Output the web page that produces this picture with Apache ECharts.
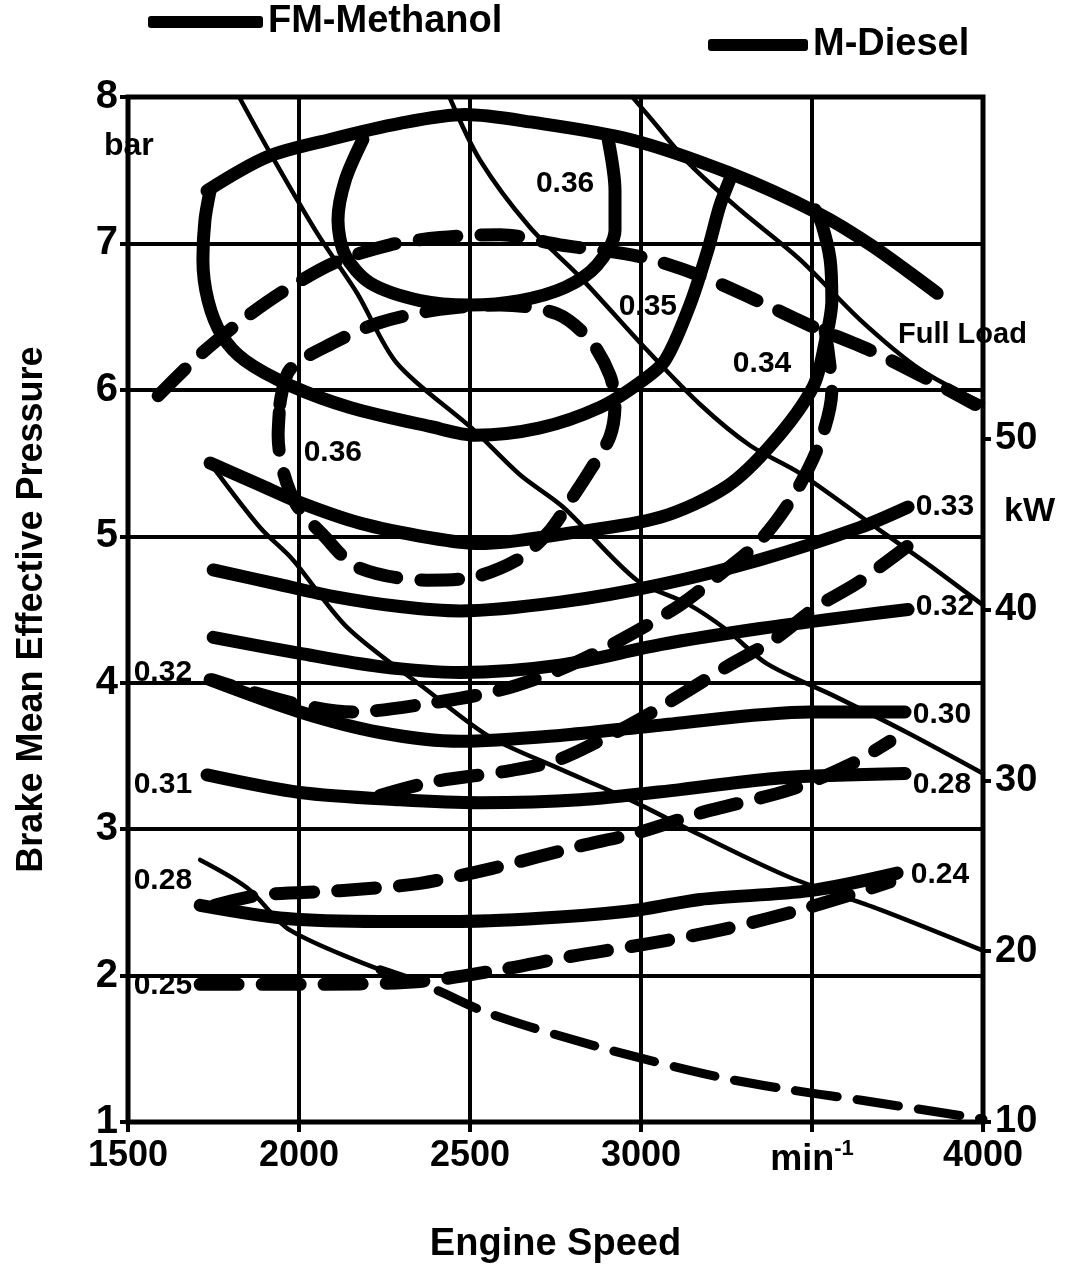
<!DOCTYPE html>
<html><head><meta charset="utf-8">
<script src="https://cdn.jsdelivr.net/npm/echarts@6/dist/echarts.min.js"></script>
<style>html,body{margin:0;padding:0;background:#fff}#c{width:1067px;height:1276px}</style>
</head><body><div id="c"></div>
<script>
// ---- axis ticks ----
const speedTicks = [1500, 2000, 2500, 3000, 3500, 4000];
const speedTickLabels = ['1500', '2000', '2500', '3000', 'min-1', '4000'];
const bmepTicks = [1, 2, 3, 4, 5, 6, 7, 8];
const powerTicks = [10, 20, 30, 40, 50];

// ---- FM-Methanol (solid) : [rpm, bar] ----
const fmFullLoad = [[1731,7.36],[1906,7.59],[2091,7.71],[2295,7.82],[2485,7.88],[2675,7.83],[2968,7.71],[3260,7.48],[3515,7.21],[3678,6.98],[3866,6.66]];
const fm036 = [[2187,7.71],[2135,7.43],[2114,7.16],[2135,6.92],[2208,6.73],[2354,6.61],[2500,6.58],[2646,6.61],[2778,6.70],[2871,6.85],[2924,7.09],[2924,7.36],[2904,7.71]];
const fm035 = [[1740,7.36],[1725,7.16],[1719,6.89],[1734,6.61],[1775,6.37],[1842,6.20],[1974,6.03],[2149,5.88],[2383,5.75],[2515,5.69],[2705,5.74],[2880,5.88],[2997,6.05],[3070,6.20],[3143,6.58],[3196,6.96],[3231,7.26],[3266,7.47]];
const fm034 = [[1740,5.50],[1886,5.35],[2003,5.23],[2178,5.09],[2383,4.99],[2529,4.95],[2784,5.02],[3056,5.13],[3251,5.34],[3386,5.64],[3503,6.02],[3538,6.32],[3558,6.61],[3553,6.89],[3529,7.13],[3509,7.23]];
const fm033 = [[1749,4.77],[1944,4.67],[2099,4.59],[2295,4.52],[2471,4.49],[2763,4.55],[3056,4.67],[3348,4.84],[3640,5.06],[3781,5.20]];
const fm032 = [[1749,4.31],[2003,4.20],[2237,4.11],[2471,4.07],[2763,4.12],[3056,4.26],[3348,4.37],[3640,4.46],[3781,4.50]];
const fm030 = [[1740,4.02],[2003,3.80],[2237,3.66],[2471,3.60],[2763,3.64],[3056,3.71],[3494,3.80],[3772,3.80]];
const fm028 = [[1731,3.37],[2003,3.25],[2295,3.20],[2529,3.18],[2822,3.20],[3114,3.27],[3406,3.35],[3772,3.38]];
const fm024 = [[1711,2.48],[1965,2.39],[2237,2.37],[2471,2.37],[2763,2.40],[2997,2.45],[3173,2.52],[3494,2.58],[3749,2.70]];

// ---- M-Diesel (dashed) ----
const dzFullLoad = [[1588,5.96],[1711,6.24],[1842,6.49],[1959,6.68],[2105,6.87],[2266,6.99],[2412,7.04],[2588,7.06],[2763,6.99],[2997,6.91],[3173,6.78],[3348,6.60],[3494,6.44],[3670,6.27],[3874,6.03],[3977,5.90]];
const dz036 = [[1944,5.90],[1974,6.14],[2099,6.32],[2237,6.46],[2412,6.55],[2588,6.58],[2754,6.52],[2851,6.34],[2909,6.10],[2924,5.90],[2909,5.68],[2851,5.45],[2801,5.27],[2734,5.04],[2646,4.85],[2509,4.72],[2374,4.70],[2170,4.79],[2070,5.01],[1994,5.21],[1953,5.45],[1939,5.69],[1944,5.90]];
const dz034 = [[3538,6.41],[3558,6.00],[3523,5.64],[3444,5.27],[3348,4.97],[3231,4.74],[3114,4.53],[2939,4.29],[2763,4.09],[2588,3.95],[2383,3.86],[2158,3.80],[2003,3.85],[1857,3.94],[1746,4.02]];
const dz032 = [[2237,3.23],[2383,3.32],[2617,3.40],[2754,3.47],[2909,3.64],[3056,3.83],[3251,4.11],[3386,4.29],[3515,4.52],[3632,4.68],[3778,4.93]];
const dz028 = [[1754,2.48],[1886,2.55],[2120,2.58],[2354,2.63],[2579,2.74],[2813,2.88],[2997,2.98],[3173,3.11],[3436,3.27],[3611,3.44],[3728,3.60]];
const dz025 = [[1711,1.94],[2003,1.94],[2354,1.96],[2588,2.04],[2792,2.13],[3026,2.22],[3231,2.31],[3436,2.43],[3611,2.55],[3728,2.64]];

// ---- constant power lines (thin) ----
const kw50 = [[2975,8.0],[3026,7.86],[3143,7.54],[3289,7.23],[3465,6.89],[3640,6.48],[3816,6.14],[4000,5.91]];
const kw40 = [[2440,8.0],[2529,7.57],[2675,7.11],[2822,6.77],[3018,6.27],[3173,5.90],[3319,5.62],[3465,5.43],[3699,5.04],[3845,4.80],[4000,4.53]];
const kw30 = [[1825,8.0],[1915,7.62],[2053,7.07],[2170,6.66],[2287,6.18],[2509,5.73],[2646,5.42],[2772,5.20],[2988,4.70],[3135,4.54],[3251,4.36],[3368,4.13],[3573,3.90],[3778,3.66],[4000,3.38]];
const kw20 = [[1740,5.50],[1886,5.06],[1982,4.84],[2140,4.38],[2374,3.95],[2558,3.63],[2754,3.42],[2968,3.20],[3173,2.96],[3436,2.67],[3699,2.45],[4000,2.17]];
const kw10a = [[1711,2.79],[1848,2.60],[1974,2.31],[2237,2.04]];
const kw10b = [[2237,2.04],[2383,1.92],[2558,1.74],[2880,1.51],[3222,1.31],[3436,1.22],[3640,1.15],[4000,1.02]];

// ---- contour labels [rpm, bar, text] ----
const contourLabels = [[2778,7.41,'0.36'],[3020,6.57,'0.35'],[3354,6.18,'0.34'],[2099,5.57,'0.36'],[3889,5.20,'0.33'],[3889,4.52,'0.32'],[3880,3.78,'0.30'],[3880,3.30,'0.28'],[3874,2.69,'0.24'],[1602,4.07,'0.32'],[1602,3.30,'0.31'],[1602,2.65,'0.28'],[1602,1.93,'0.25']];

const FONT = "'Liberation Sans', Arial, sans-serif";
const BLACK = '#000';

function fm(data) {
  return { type: 'line', name: 'FM-Methanol', data, smooth: 0.3, symbol: 'none', silent: true, z: 4, color: BLACK,
    itemStyle: { color: BLACK },
    lineStyle: { color: BLACK, width: 13, cap: 'round', join: 'round' } };
}
function dz(data) {
  return { type: 'line', name: 'M-Diesel', data, smooth: 0.3, symbol: 'none', silent: true, z: 4, color: BLACK,
    itemStyle: { color: BLACK },
    lineStyle: { color: BLACK, width: 13, type: [38, 24], cap: 'round', join: 'round' } };
}
function kw(name, data, dashed) {
  return { type: 'line', name, data, smooth: 0.3, symbol: 'none', silent: true, z: 3, color: BLACK,
    lineStyle: dashed ? { color: BLACK, width: 9, type: [42, 20], cap: 'round' } : { color: BLACK, width: 4.5, cap: 'round', join: 'round' } };
}

const chart = echarts.init(document.getElementById('c'), null, { renderer: 'canvas' });
chart.setOption({
  backgroundColor: '#fff',
  animation: false,
  textStyle: { fontFamily: FONT },
  grid: { left: 128, right: 84, top: 97, bottom: 154, show: true, borderColor: BLACK, borderWidth: 5, backgroundColor: 'transparent' },
  legend: [
    { data: ['FM-Methanol'], left: 148, top: 3, padding: 0, itemWidth: 115, itemHeight: 12, selectedMode: false,
      icon: 'roundRect', itemStyle: { color: BLACK, borderWidth: 0 },
      textStyle: { fontSize: 38, fontWeight: 'bold', color: BLACK, fontFamily: FONT } },
    { data: ['M-Diesel'], left: 708, top: 26, padding: 0, itemWidth: 100, itemHeight: 12, selectedMode: false,
      icon: 'roundRect', itemStyle: { color: BLACK, borderWidth: 0 },
      textStyle: { fontSize: 38, fontWeight: 'bold', color: BLACK, fontFamily: FONT } }
  ],
  xAxis: {
    type: 'value', min: 1500, max: 4000, interval: 500,
    axisLine: { show: false },
    axisTick: { show: true, length: 10, lineStyle: { color: BLACK, width: 4 } },
    splitLine: { show: true, lineStyle: { color: BLACK, width: 4 } },
    axisLabel: {
      margin: 16, fontSize: 36, fontWeight: 'bold', color: BLACK, fontFamily: FONT,
      formatter: v => {
        const t = speedTickLabels[speedTicks.indexOf(v)];
        if (t === 'min-1') return '{m|min}{s|-1}';
        return t;
      },
      rich: {
        m: { fontSize: 36, fontWeight: 'bold', color: BLACK, fontFamily: FONT },
        s: { fontSize: 22, fontWeight: 'bold', color: BLACK, fontFamily: FONT, padding: [0, 0, 22, 0] }
      }
    },
    name: 'Engine Speed', nameLocation: 'middle', nameGap: 104,
    nameTextStyle: { fontSize: 38, fontWeight: 'bold', color: BLACK, fontFamily: FONT }
  },
  yAxis: [
    {
      type: 'value', min: bmepTicks[0], max: bmepTicks[bmepTicks.length - 1], interval: 1, position: 'left',
      axisLine: { show: false },
      axisTick: { show: true, length: 8, lineStyle: { color: BLACK, width: 4 } },
      splitLine: { show: true, lineStyle: { color: BLACK, width: 4 } },
      axisLabel: { fontSize: 40, fontWeight: 'bold', color: BLACK, margin: 10, fontFamily: FONT },
      name: 'Brake Mean Effective Pressure', nameLocation: 'middle', nameRotate: 90, nameGap: 78,
      nameTextStyle: { fontSize: 36, fontWeight: 'bold', color: BLACK, fontFamily: FONT }
    },
    {
      type: 'value', min: 10, max: 70, interval: 10, position: 'right',
      axisLine: { show: false },
      splitLine: { show: false },
      axisTick: { show: true, length: 8, lineStyle: { color: BLACK, width: 4 }, customValues: powerTicks },
      axisLabel: { customValues: powerTicks, formatter: v => powerTicks.includes(v) ? String(v) : '',
        fontSize: 38, fontWeight: 'bold', color: BLACK, margin: 12, fontFamily: FONT }
    }
  ],
  graphic: [
    { type: 'text', left: 104, top: 130, style: { text: 'bar', font: 'bold 32px ' + FONT, fill: BLACK } },
    { type: 'text', left: 1004, top: 495, style: { text: 'kW', font: 'bold 34px ' + FONT, fill: BLACK } },
    { type: 'text', left: 898, top: 320, style: { text: 'Full Load', font: 'bold 29px ' + FONT, fill: BLACK } }
  ],
  series: [
    kw('50 kW', kw50), kw('40 kW', kw40), kw('30 kW', kw30), kw('20 kW', kw20),
    kw('10 kW', kw10a), kw('10 kW dashed', kw10b, true),
    fm(fmFullLoad), fm(fm036), fm(fm035), fm(fm034), fm(fm033), fm(fm032), fm(fm030), fm(fm028), fm(fm024),
    dz(dzFullLoad), dz(dz036), dz(dz034), dz(dz032), dz(dz028), dz(dz025),
    {
      type: 'scatter', name: 'labels', data: contourLabels, symbolSize: 0, silent: true, z: 6,
      itemStyle: { color: BLACK, opacity: 1 },
      label: { show: true, position: 'inside', formatter: p => p.data[2], opacity: 1,
        fontSize: 30, fontWeight: 'bold', color: BLACK, fontFamily: FONT }
    }
  ]
});
</script>
</body></html>
